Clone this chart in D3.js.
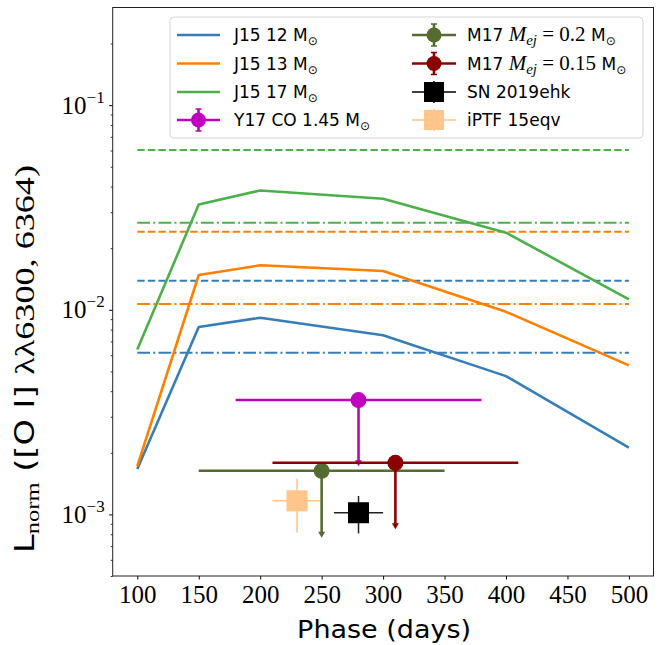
<!DOCTYPE html>
<html>
<head>
<meta charset="utf-8">
<script src="https://cdn.jsdelivr.net/npm/d3@7"></script>
<style>
  html, body { margin: 0; padding: 0; background: #fff; }
  svg { display: block; }
</style>
</head>
<body>
<svg id="chart" width="668" height="645"></svg>
<script>
// ---------------- data ----------------
const phases = [100, 150, 200, 300, 400, 500];
const j15_12 = [0.001665, 0.00823, 0.00914, 0.0075, 0.00474, 0.00212];
const j15_13 = [0.00172, 0.01479, 0.01649, 0.01546, 0.00977, 0.00535];
const j15_17 = [0.0064, 0.0327, 0.0383, 0.0349, 0.0238, 0.01125];

// horizontal reference levels (dashed / dash-dot)
const hlineRange = [100, 500];
const hlinesDashed = [0.01386, 0.02405, 0.0603];   // 12, 13, 17
const hlinesDashDot = [0.00617, 0.01067, 0.0266];  // 12, 13, 17

// upper-limit points: [phase, value, xerr, arrowEnd]
const y17 = [280, 0.00362, 100, 0.00174];
const m17_02 = [250, 0.001633, 100, 0.000778];
const m17_015 = [310, 0.001787, 100, 0.000855];
// observed: [phase, value, xerr, yLow, yHigh]
const sn2019ehk = [280, 0.001019, 20, 0.000807, 0.00123];
const iptf15eqv = [230, 0.001165, 20, 0.000813, 0.001493];

const xTicks = [100, 150, 200, 250, 300, 350, 400, 450, 500];
const yTicksMajor = [1e-3, 1e-2, 1e-1];
const yTickExp = ["−3", "−2", "−1"];
const xDomain = [80, 520];
const yDomain = [5e-4, 0.3];

// ---------------- setup ----------------
const svg = d3.select("#chart");
const L = 112.7, R = 653.5, T = 7.5, B = 576;
const x = d3.scaleLinear().domain(xDomain).range([L, R]);
const y = d3.scaleLog().domain(yDomain).range([B, T]);

const cBlue = "#377eb8", cOrange = "#ff7f00", cGreen = "#4daf4a";
const cMag = "#bf00bf", cOlive = "#556b2f", cRed = "#8b0000";
const serif = "'Liberation Serif', 'DejaVu Serif', serif";
const sans = "'DejaVu Sans', 'Liberation Sans', sans-serif";

svg.append("rect").attr("width", 668).attr("height", 645).attr("fill", "#fff");

const defs = svg.append("defs");
defs.append("clipPath").attr("id", "clip").append("rect")
  .attr("x", L).attr("y", T).attr("width", R - L).attr("height", B - T);

const plot = svg.append("g").attr("clip-path", "url(#clip)");

// horizontal lines
const colors3 = [cBlue, cOrange, cGreen];
hlinesDashed.forEach((v, i) => {
  plot.append("line").attr("x1", x(hlineRange[0])).attr("x2", x(hlineRange[1]))
    .attr("y1", y(v)).attr("y2", y(v))
    .attr("stroke", colors3[i]).attr("stroke-width", 2)
    .attr("stroke-dasharray", "7.4,3.2");
});
hlinesDashDot.forEach((v, i) => {
  plot.append("line").attr("x1", x(hlineRange[0])).attr("x2", x(hlineRange[1]))
    .attr("y1", y(v)).attr("y2", y(v))
    .attr("stroke", colors3[i]).attr("stroke-width", 2)
    .attr("stroke-dasharray", "12.8,3.2,2,3.2");
});

// model lines
const line = d3.line().x(d => x(d[0])).y(d => y(d[1]));
[[j15_12, cBlue], [j15_13, cOrange], [j15_17, cGreen]].forEach(([vals, c]) => {
  plot.append("path").datum(phases.map((p, i) => [p, vals[i]]))
    .attr("d", line).attr("fill", "none").attr("stroke", c)
    .attr("stroke-width", 2.6).attr("stroke-linejoin", "round");
});

// upper limits
function upperLimit(d, color) {
  const [px, v, xe, lo] = d;
  const g = plot.append("g");
  g.append("line").attr("x1", x(px - xe)).attr("x2", x(px + xe))
    .attr("y1", y(v)).attr("y2", y(v)).attr("stroke", color).attr("stroke-width", 2.6);
  const yl = y(lo);
  g.append("line").attr("x1", x(px)).attr("x2", x(px))
    .attr("y1", y(v)).attr("y2", yl - 3).attr("stroke", color).attr("stroke-width", 2.6);
  g.append("path")
    .attr("d", `M${x(px) - 3.5},${yl - 5} L${x(px) + 3.5},${yl - 5} L${x(px)},${yl + 1} Z`)
    .attr("fill", color);
  g.append("circle").attr("cx", x(px)).attr("cy", y(v)).attr("r", 8).attr("fill", color);
}
upperLimit(y17, cMag);
upperLimit(m17_02, cOlive);
upperLimit(m17_015, cRed);

// observed points
function obsPoint(d, color, lineColor, alpha) {
  const [px, v, xe, lo, hi] = d;
  const g = plot.append("g").attr("opacity", alpha);
  g.append("line").attr("x1", x(px - xe)).attr("x2", x(px + xe))
    .attr("y1", y(v)).attr("y2", y(v)).attr("stroke", lineColor).attr("stroke-width", 1.5);
  g.append("line").attr("x1", x(px)).attr("x2", x(px))
    .attr("y1", y(lo)).attr("y2", y(hi)).attr("stroke", lineColor).attr("stroke-width", 1.5);
  g.append("rect").attr("x", x(px) - 10.5).attr("y", y(v) - 10.5)
    .attr("width", 21).attr("height", 21).attr("fill", color);
}
obsPoint(iptf15eqv, cOrange, cOrange, 0.45);
obsPoint(sn2019ehk, "#000", "#222", 1);

// ---------------- axes ----------------
const xAxis = svg.append("g").attr("transform", `translate(0,${B})`)
  .call(d3.axisBottom(x).tickValues(xTicks).tickSize(3.5).tickSizeOuter(0).tickPadding(6));
xAxis.select(".domain").remove();
xAxis.selectAll("text").attr("font-family", serif).attr("font-size", 25).attr("fill", "#000");
xAxis.selectAll("line").attr("stroke", "#000").attr("stroke-width", 1);

const yMinor = [];
for (let e = -4; e <= -1; e++) for (let k = 2; k <= 9; k++) {
  const v = k * Math.pow(10, e);
  if (v >= yDomain[0] && v <= yDomain[1]) yMinor.push(v);
}
const yAxisMinor = svg.append("g").attr("transform", `translate(${L},0)`)
  .call(d3.axisLeft(y).tickValues(yMinor).tickSize(2).tickSizeOuter(0).tickFormat(""));
yAxisMinor.select(".domain").remove();
yAxisMinor.selectAll("line").attr("stroke", "#000").attr("stroke-width", 0.8);

const yAxis = svg.append("g").attr("transform", `translate(${L},0)`)
  .call(d3.axisLeft(y).tickValues(yTicksMajor).tickSize(3.5).tickSizeOuter(0).tickFormat(""));
yAxis.select(".domain").remove();
yAxis.selectAll("line").attr("stroke", "#000").attr("stroke-width", 1);
yAxis.selectAll(".tick").each(function(d, i) {
  const t = d3.select(this).append("text").attr("x", -8).attr("dy", "0.32em")
    .attr("text-anchor", "end").attr("fill", "#000").attr("font-family", serif).attr("font-size", 25);
  t.append("tspan").text("10");
  t.append("tspan").attr("font-size", 17).attr("dy", -11).text(yTickExp[i]);
});

// frame
svg.append("rect").attr("x", L).attr("y", T).attr("width", R - L).attr("height", B - T)
  .attr("fill", "none").attr("stroke", "#222").attr("stroke-width", 1);

// axis labels
svg.append("text").attr("x", (L + R) / 2 + 1).attr("y", 638).attr("text-anchor", "middle")
  .attr("font-family", sans).attr("font-size", 25).attr("fill", "#000")
  .attr("textLength", 174).attr("lengthAdjust", "spacingAndGlyphs")
  .text("Phase (days)");

const yl = svg.append("text").attr("transform", `translate(34,359) rotate(-90)`)
  .attr("text-anchor", "middle").attr("fill", "#000").attr("font-size", 26)
  .attr("textLength", 388).attr("lengthAdjust", "spacingAndGlyphs");
yl.append("tspan").attr("font-family", sans).text("L");
yl.append("tspan").attr("font-family", serif).attr("font-size", 19).attr("dy", 5).text("norm");
yl.append("tspan").attr("font-family", sans).attr("dy", -5).text(" ([O I] ");
yl.append("tspan").attr("font-family", serif).attr("font-size", 28).text("λλ6300, 6364)");

// ---------------- legend ----------------
const lg = svg.append("g");
lg.append("rect").attr("x", 170).attr("y", 17).attr("width", 473).attr("height", 121)
  .attr("rx", 4).attr("fill", "#fff").attr("fill-opacity", 0.85)
  .attr("stroke", "#d5d5d5").attr("stroke-width", 1);

const rowY = [35, 63.5, 92, 120];
const c1h = [177, 220], c1t = 234, c2h = [412, 456], c2t = 467;
const fs = 17;

function addMsun(t) {
  t.append("tspan").attr("font-family", sans).text(" M");
  t.append("tspan").attr("font-family", sans).attr("font-size", 12).attr("dy", 4).text("⊙");
}
function lineHandle(yy, color) {
  lg.append("line").attr("x1", c1h[0]).attr("x2", c1h[1]).attr("y1", yy).attr("y2", yy)
    .attr("stroke", color).attr("stroke-width", 2.6);
}
function errHandle(h, yy, color, marker, alpha, lw) {
  const g = lg.append("g").attr("opacity", alpha);
  const cx = (h[0] + h[1]) / 2;
  g.append("line").attr("x1", h[0]).attr("x2", h[1]).attr("y1", yy).attr("y2", yy)
    .attr("stroke", color).attr("stroke-width", lw);
  g.append("line").attr("x1", cx).attr("x2", cx).attr("y1", yy - 11).attr("y2", yy + 11)
    .attr("stroke", color).attr("stroke-width", lw);
  if (marker === "circle") {
    g.append("line").attr("x1", cx - 3).attr("x2", cx + 3).attr("y1", yy - 11).attr("y2", yy - 11)
      .attr("stroke", color).attr("stroke-width", 1.5);
    g.append("line").attr("x1", cx - 3).attr("x2", cx + 3).attr("y1", yy + 11).attr("y2", yy + 11)
      .attr("stroke", color).attr("stroke-width", 1.5);
    g.append("circle").attr("cx", cx).attr("cy", yy).attr("r", 7.5).attr("fill", color);
  } else {
    g.append("rect").attr("x", cx - 10).attr("y", yy - 10).attr("width", 20).attr("height", 20)
      .attr("fill", color);
  }
}
function label(xx, yy) {
  return lg.append("text").attr("x", xx).attr("y", yy + 6).attr("font-family", sans)
    .attr("font-size", fs).attr("fill", "#000");
}

lineHandle(rowY[0], cBlue);  addMsun(label(c1t, rowY[0]).text("J15 12"));
lineHandle(rowY[1], cOrange); addMsun(label(c1t, rowY[1]).text("J15 13"));
lineHandle(rowY[2], cGreen); addMsun(label(c1t, rowY[2]).text("J15 17"));
errHandle(c1h, rowY[3], cMag, "circle", 1, 2.6); addMsun(label(c1t, rowY[3]).text("Y17 CO 1.45"));

function mejLabel(yy, val) {
  const t = label(c2t, yy).text("M17 ");
  t.append("tspan").attr("font-family", serif).attr("font-style", "italic").attr("font-size", 21).text("M");
  t.append("tspan").attr("font-family", serif).attr("font-style", "italic").attr("font-size", 15).attr("dy", 4).text("ej");
  t.append("tspan").attr("font-family", serif).attr("font-size", 21).attr("dy", -4).text(" = " + val);
  t.append("tspan").attr("font-family", sans).text(" M");
  t.append("tspan").attr("font-family", sans).attr("font-size", 12).attr("dy", 4).text("⊙");
}
errHandle(c2h, rowY[0], cOlive, "circle", 1, 2.6); mejLabel(rowY[0], "0.2");
errHandle(c2h, rowY[1], cRed, "circle", 1, 2.6); mejLabel(rowY[1], "0.15");
errHandle(c2h, rowY[2], "#000", "square", 1, 1.5); label(c2t, rowY[2]).text("SN 2019ehk");
errHandle(c2h, rowY[3], cOrange, "square", 0.45, 1.5); label(c2t, rowY[3]).text("iPTF 15eqv");
</script>
</body>
</html>
